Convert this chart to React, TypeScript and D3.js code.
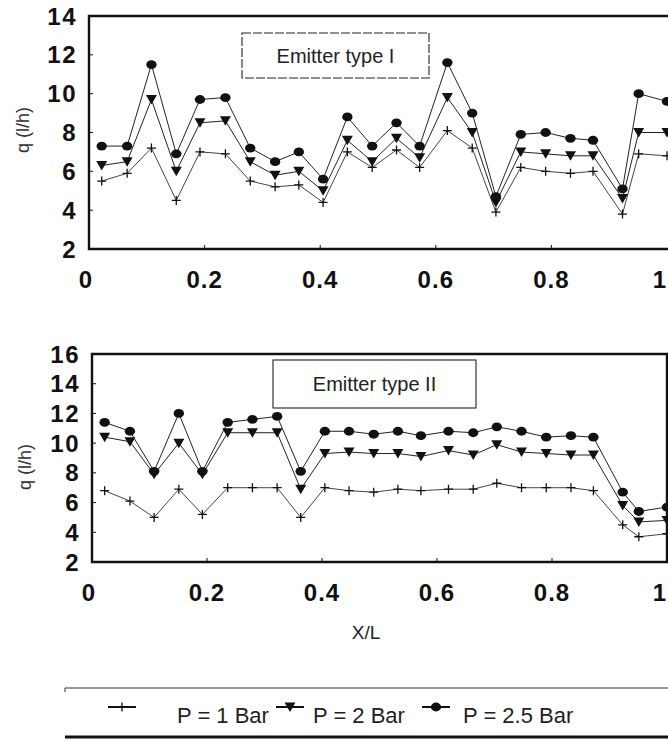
import * as d3 from "d3";

// X/L positions of the emitters (shared by both panels)
const xPos = [
  0.022, 0.066, 0.108, 0.151, 0.192, 0.236, 0.279, 0.322, 0.363, 0.405, 0.447, 0.49,
  0.532, 0.572, 0.62, 0.663, 0.704, 0.747, 0.79, 0.833, 0.872, 0.923, 0.951, 1.0,
];

// Emitter type I, q (l/h)
const typeI_p1 = [5.5, 5.9, 7.2, 4.5, 7.0, 6.9, 5.5, 5.2, 5.3, 4.4, 7.0, 6.2, 7.1, 6.2, 8.1, 7.2, 3.9, 6.2, 6.0, 5.9, 6.0, 3.8, 6.9, 6.8];
const typeI_p2 = [6.3, 6.5, 9.7, 6.0, 8.5, 8.6, 6.5, 5.8, 6.0, 5.0, 7.6, 6.5, 7.7, 6.7, 9.8, 8.0, 4.4, 7.0, 6.9, 6.8, 6.8, 4.6, 8.0, 8.0];
const typeI_p25 = [7.3, 7.3, 11.5, 6.9, 9.7, 9.8, 7.2, 6.5, 7.0, 5.6, 8.8, 7.3, 8.5, 7.3, 11.6, 9.0, 4.7, 7.9, 8.0, 7.7, 7.6, 5.1, 10.0, 9.6];

// Emitter type II, q (l/h)
const typeII_p1 = [6.8, 6.1, 5.0, 6.9, 5.2, 7.0, 7.0, 7.0, 5.0, 7.0, 6.8, 6.7, 6.9, 6.8, 6.9, 6.9, 7.3, 7.0, 7.0, 7.0, 6.8, 4.5, 3.7, 3.9];
const typeII_p2 = [10.4, 10.1, 7.9, 10.0, 7.9, 10.7, 10.7, 10.7, 6.9, 9.3, 9.4, 9.3, 9.3, 9.1, 9.5, 9.2, 9.9, 9.4, 9.3, 9.2, 9.2, 5.8, 4.7, 4.8];
const typeII_p25 = [11.4, 10.8, 8.1, 12.0, 8.1, 11.4, 11.6, 11.8, 8.1, 10.8, 10.8, 10.6, 10.8, 10.5, 10.8, 10.7, 11.1, 10.8, 10.4, 10.5, 10.4, 6.7, 5.4, 5.7];

const xTicks = [0, 0.2, 0.4, 0.6, 0.8, 1];
const yTicksTop = [2, 4, 6, 8, 10, 12, 14];
const yTicksBottom = [2, 4, 6, 8, 10, 12, 14, 16];
const legendLabels = ["P = 1 Bar", "P = 2 Bar", "P = 2.5 Bar"];

const FONT = "'Liberation Sans', Arial, Helvetica, sans-serif";
const INK = "#111";

type MarkerKind = "plus" | "tri" | "dot";

function Marker({ kind, x, y }: { kind: MarkerKind; x: number; y: number }) {
  if (kind === "plus")
    return <path d={`M${x - 4.5},${y}H${x + 4.5}M${x},${y - 4.5}V${y + 4.5}`} stroke={INK} strokeWidth={1.3} />;
  if (kind === "tri")
    return <path d={`M${x - 5.5},${y - 4.5}L${x + 5.5},${y - 4.5}L${x},${y + 5}Z`} fill={INK} />;
  return <ellipse cx={x} cy={y} rx={5.2} ry={4.4} fill={INK} />;
}

interface PanelProps {
  left: number;
  right: number;
  top: number;
  bottom: number;
  borderRight: number;
  yDomain: [number, number];
  yTicks: number[];
  series: { values: number[]; kind: MarkerKind; color: string }[];
  title: string;
  titleBox: { x: number; y: number; w: number; h: number; dashed?: boolean };
  yLabelPos: [number, number];
}

function Panel(p: PanelProps) {
  const x = d3.scaleLinear().domain([0, 1]).range([p.left, p.right]);
  const y = d3.scaleLinear().domain(p.yDomain).range([p.bottom, p.top]);
  const line = d3
    .line<number>()
    .x((_, i) => x(xPos[i]))
    .y((d) => y(d));

  // the last label sits at the page edge; pull it in a little
  const labelShift = (t: number) => (t === 0 ? -3 : t === 1 ? -7 : 0);

  return (
    <g>
      {/* frame */}
      <path
        d={`M${p.left},${p.top}H${p.borderRight}V${p.bottom}H${p.left}Z`}
        fill="none"
        stroke={INK}
        strokeWidth={2.4}
      />
      {/* inward ticks */}
      {xTicks.slice(1, -1).map((t) => (
        <line key={"xt" + t} x1={x(t)} x2={x(t)} y1={p.bottom} y2={p.bottom - 4} stroke={INK} strokeWidth={1} />
      ))}
      {p.yTicks.slice(1, -1).map((t) => (
        <line key={"yt" + t} x1={p.left} x2={p.left + 4} y1={y(t)} y2={y(t)} stroke={INK} strokeWidth={1} />
      ))}
      {/* tick labels */}
      {xTicks.map((t) => (
        <text
          key={"xl" + t}
          x={x(t) + labelShift(t)}
          y={p.bottom + 39}
          textAnchor="middle"
          fontFamily={FONT}
          fontWeight="bold"
          fontSize={24}
          letterSpacing={1}
          fill={INK}
        >
          {d3.format("~g")(t)}
        </text>
      ))}
      {p.yTicks.map((t) => (
        <text
          key={"yl" + t}
          x={p.left - 12}
          y={y(t)}
          dy="0.36em"
          textAnchor="end"
          fontFamily={FONT}
          fontWeight="bold"
          fontSize={24}
          letterSpacing={1.5}
          fill={INK}
        >
          {t}
        </text>
      ))}
      <text
        transform={`translate(${p.yLabelPos[0]},${p.yLabelPos[1]}) rotate(-90)`}
        textAnchor="middle"
        dy="0.35em"
        fontFamily={FONT}
        fontSize={18}
        fill="#333"
      >
        q (l/h)
      </text>
      {/* annotation box */}
      <rect
        x={p.titleBox.x}
        y={p.titleBox.y}
        width={p.titleBox.w}
        height={p.titleBox.h}
        fill="#fff"
        stroke="#222"
        strokeWidth={1.1}
        strokeDasharray={p.titleBox.dashed ? "9 2" : undefined}
      />
      <text
        x={p.titleBox.x + p.titleBox.w / 2}
        y={p.titleBox.y + p.titleBox.h / 2}
        dy="0.36em"
        textAnchor="middle"
        fontFamily={FONT}
        fontSize={20}
        fill="#222"
      >
        {p.title}
      </text>
      {/* series */}
      {p.series.map((s, si) => (
        <g key={si}>
          <path d={line(s.values) || ""} fill="none" stroke={s.color} strokeWidth={1} />
          {s.values.map((v, i) => (
            <Marker key={i} kind={s.kind} x={x(xPos[i])} y={y(v)} />
          ))}
        </g>
      ))}
    </g>
  );
}

export default function App() {
  const kinds: MarkerKind[] = ["plus", "tri", "dot"];
  const legendSym = [122, 290, 436];
  const legendText = [177, 313, 463];

  return (
    <svg
      width={668}
      height={741}
      style={{ position: "absolute", left: 0, top: 0, background: "#fff" }}
    >
      <rect width={668} height={741} fill="#fff" />
      <Panel
        left={89}
        right={667}
        top={16}
        bottom={249}
        borderRight={670}
        yDomain={[2, 14]}
        yTicks={yTicksTop}
        series={[
          { values: typeI_p1, kind: "plus", color: "#444" },
          { values: typeI_p2, kind: "tri", color: "#222" },
          { values: typeI_p25, kind: "dot", color: "#222" },
        ]}
        title="Emitter type I"
        titleBox={{ x: 242, y: 33, w: 187, h: 45, dashed: true }}
        yLabelPos={[23, 130]}
      />
      <Panel
        left={92}
        right={667}
        top={354}
        bottom={562}
        borderRight={667}
        yDomain={[2, 16]}
        yTicks={yTicksBottom}
        series={[
          { values: typeII_p1, kind: "plus", color: "#444" },
          { values: typeII_p2, kind: "tri", color: "#222" },
          { values: typeII_p25, kind: "dot", color: "#222" },
        ]}
        title="Emitter type II"
        titleBox={{ x: 273, y: 360, w: 203, h: 48 }}
        yLabelPos={[25, 467]}
      />
      <text x={366} y={632} dy="0.36em" textAnchor="middle" fontFamily={FONT} fontSize={19} fill="#222">
        X/L
      </text>

      {/* legend */}
      <line x1={65} x2={668} y1={688} y2={688} stroke="#333" strokeWidth={1.2} />
      <line x1={65} x2={65} y1={688} y2={692} stroke="#333" strokeWidth={1} />
      <line x1={65} x2={668} y1={737} y2={737} stroke={INK} strokeWidth={3} />
      {legendLabels.map((lab, i) => (
        <g key={lab}>
          <line x1={legendSym[i] - 14} x2={legendSym[i] + 14} y1={707} y2={707} stroke={INK} strokeWidth={2} />
          <Marker kind={kinds[i]} x={legendSym[i]} y={707} />
          <text x={legendText[i]} y={723} fontFamily={FONT} fontSize={22} fill="#222">
            {lab}
          </text>
        </g>
      ))}
    </svg>
  );
}
